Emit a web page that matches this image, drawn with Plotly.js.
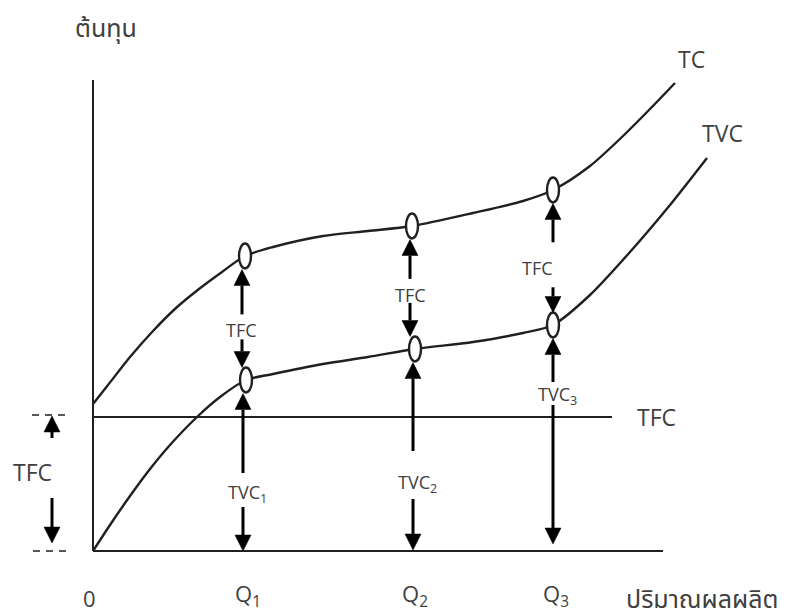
<!DOCTYPE html>
<html>
<head>
<meta charset="utf-8">
<script src="https://cdn.plot.ly/plotly-3.0.1.min.js"></script>
<style>html,body{margin:0;padding:0;background:#fff}#chart{width:792px;height:614px}</style>
</head>
<body>
<div id="chart"></div>
<script>
// ---- data (quantity on x, cost on y; arbitrary units) ----
const tcQuantity  = [0, 15, 37, 60, 83, 106, 129, 152, 180, 230, 275, 319, 380, 430, 460, 497, 530, 557, 582];
const tcCost      = [147, 166, 194, 220, 243, 262, 279, 295, 304, 315, 320, 325, 338, 350, 361, 385, 415, 442, 468];
const tvcQuantity = [0, 17, 37, 57, 77, 104, 127, 153, 180, 230, 275, 322, 380, 430, 460, 497, 537, 577, 614];
const tvcCost     = [0, 26, 55, 82, 106, 134, 154, 171, 177, 187, 194, 202, 209, 218, 226, 256, 299, 346, 393];
const tfcValue = 134;
const tfcLineEnd = 519;
const qAxisEnd = 570;
const costAxisTop = 471;
const markTcQ  = [152, 319, 460];
const markTcC  = [295, 325, 361];
const markTvcQ = [153, 322, 460];
const markTvcC = [171, 202, 226];
const qTickLabels = ['Q<sub>1</sub>', 'Q<sub>2</sub>', 'Q<sub>3</sub>'];
const tvcTickLabels = ['TVC<sub>1</sub>', 'TVC<sub>2</sub>', 'TVC<sub>3</sub>'];
const yTitle = 'ต้นทุน';
const xTitle = 'ปริมาณผลผลิต';

// ---- styling ----
const INK = '#231f20';
const TXT = '#404040';
const FONT = 'Open Sans, Noto Sans Thai, Noto Sans Thai Looped, Loma, Garuda, Waree, Noto Sans, DejaVu Sans, sans-serif';
const EW = 6, EH = 12.5;           // ellipse half sizes
const HEAD_W = 8, HEAD_L = 16;     // arrowhead half width / length (axis units = px here)
// per-column label placement (styling)
const tfcFrac = [0.40, 0.44, 0.42];
const tfcGapUp = [16, 16, 26], tfcGapDown = [9, 8, 19];
const tfcLabelDx = [-1, 0, -16];
const tvcLabelC = [58, 68, 156];
const tvcGapUp = [20, 32, 13], tvcGapDown = [14, 16, 10];
const tvcTipBottom = [0, 1, 7];
const arrowDx = [-3, -2, 0];

const traces = [
  {x: tcQuantity, y: tcCost, mode: 'lines', line: {color: INK, width: 2.4, shape: 'spline', smoothing: 0.8}, hoverinfo: 'skip'},
  {x: tvcQuantity, y: tvcCost, mode: 'lines', line: {color: INK, width: 2.4, shape: 'spline', smoothing: 0.8}, hoverinfo: 'skip'}
];

const shapes = [
  {type: 'line', xref: 'x', yref: 'y', x0: 0, x1: 0, y0: 0, y1: costAxisTop, line: {color: INK, width: 2}},
  {type: 'line', xref: 'x', yref: 'y', x0: 0, x1: qAxisEnd, y0: 0, y1: 0, line: {color: INK, width: 2}},
  {type: 'line', xref: 'x', yref: 'y', x0: 0, x1: tfcLineEnd, y0: tfcValue, y1: tfcValue, line: {color: INK, width: 2}},
  {type: 'line', xref: 'x', yref: 'y', x0: -61, x1: -25, y0: tfcValue + 2, y1: tfcValue + 2, line: {color: INK, width: 1.6, dash: '7px,6px'}},
  {type: 'line', xref: 'x', yref: 'y', x0: -60, x1: -23, y0: 0, y1: 0, line: {color: INK, width: 1.6, dash: '7px,6px'}}
];
function ellipse(q, c) {
  return {type: 'circle', xref: 'x', yref: 'y', layer: 'above', x0: q - EW, x1: q + EW, y0: c - EH, y1: c + EH,
          line: {color: INK, width: 2.4}, fillcolor: '#ffffff'};
}
for (let i = 0; i < 3; i++) {
  shapes.push(ellipse(markTcQ[i], markTcC[i]));
  shapes.push(ellipse(markTvcQ[i], markTvcC[i]));
}

function arrow(x, tailY, tipY) {
  const dir = tipY > tailY ? 1 : -1;
  const base = tipY - dir * HEAD_L;
  shapes.push({type: 'line', xref: 'x', yref: 'y', layer: 'above', x0: x, x1: x, y0: tailY, y1: base,
               line: {color: '#000', width: 3}});
  shapes.push({type: 'path', xref: 'x', yref: 'y', layer: 'above',
               path: 'M' + (x - HEAD_W) + ',' + base + ' L' + (x + HEAD_W) + ',' + base + ' L' + x + ',' + tipY + ' Z',
               fillcolor: '#000', line: {color: '#000', width: 0.5}});
}

const annotations = [];
function label(x, y, text, size, xanchor) {
  annotations.push({x: x, y: y, xref: 'x', yref: 'y', text: text, showarrow: false,
    xanchor: xanchor || 'center', yanchor: 'middle', font: {family: FONT, size: size, color: TXT}});
}

for (let i = 0; i < 3; i++) {
  const tc = markTcC[i], tvc = markTvcC[i];
  const xa = markTcQ[i] + arrowDx[i];
  const xb = markTvcQ[i] + arrowDx[i];
  const lc = tvc + (tc - tvc) * tfcFrac[i];
  label(xa + tfcLabelDx[i], lc, 'TFC', 18);
  arrow(xa, lc + tfcGapUp[i], tc - EH - 1);
  arrow(xa, lc - tfcGapDown[i], tvc + EH);
  label(xb + 4, tvcLabelC[i], tvcTickLabels[i], 18);
  arrow(xb, tvcLabelC[i] + tvcGapUp[i], tvc - EH - 1);
  arrow(xb, tvcLabelC[i] - tvcGapDown[i], tvcTipBottom[i]);
  label(markTcQ[i] + 3, -44, qTickLabels[i], 22);
}
// left TFC bracket
arrow(-41, tfcValue - 21, tfcValue + 1);
arrow(-41, 53, 8);
label(-61, 79, 'TFC', 23);

// curve and line labels
label(tcQuantity[tcQuantity.length - 1] + 16, tcCost[tcCost.length - 1] + 24, 'TC', 23);
label(tvcQuantity[tvcQuantity.length - 1] + 15, tvcCost[tvcCost.length - 1] + 25, 'TVC', 23);
label(tfcLineEnd + 44, tfcValue, 'TFC', 23);
label(-4, -47, '0', 22);
label(13, 524, yTitle, 25);
label(531, -47, xTitle, 25, 'left');

const layout = {
  width: 792, height: 614,
  margin: {l: 0, r: 0, t: 0, b: 0, pad: 0},
  paper_bgcolor: '#ffffff', plot_bgcolor: '#ffffff',
  showlegend: false,
  xaxis: {range: [-93, 699], visible: false, fixedrange: true},
  yaxis: {range: [-63, 551], visible: false, fixedrange: true},
  shapes: shapes,
  annotations: annotations
};

Plotly.newPlot('chart', traces, layout, {staticPlot: true, displayModeBar: false});
</script>
</body>
</html>
